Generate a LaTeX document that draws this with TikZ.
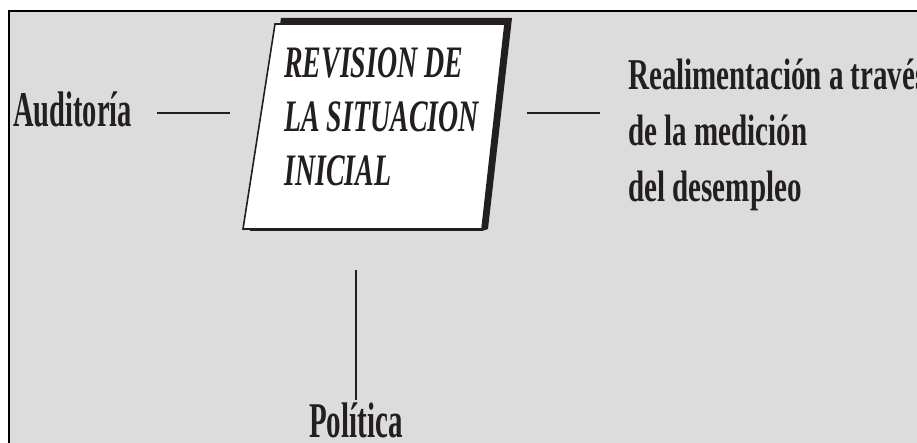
\documentclass[tikz,border=0pt]{standalone}
\usepackage{fontspec}
\setmainfont{Liberation Serif}
\usepackage{graphicx}
\definecolor{bg}{HTML}{DCDCDC}
\definecolor{ink}{HTML}{231F20}
\newcommand{\cnd}[2]{\scalebox{#1}[1]{#2}}
\begin{document}
\begin{tikzpicture}[x=1pt,y=-1pt,
  lbl/.style={inner sep=0pt, text=ink, font=\fontsize{50}{56}\selectfont\bfseries},
  rlbl/.style={inner sep=0pt, text=ink, font=\fontsize{44}{56}\selectfont\bfseries},
  ilbl/.style={inner sep=0pt, text=ink, font=\fontsize{45}{54}\selectfont\bfseries\itshape},
  conn/.style={draw=ink, line width=2.8pt}]
\useasboundingbox (0,0) rectangle (917,443);
\fill[white] (0,0) rectangle (917,443);
\draw[fill=bg, draw=black, line width=2.2pt] (9,11) rectangle (940,470);
% parallelogram with shadow
\coordinate (tl) at (275,24);
\coordinate (tr) at (505,24);
\coordinate (br) at (482,229);
\coordinate (bl) at (243,229);
\fill[ink] (281,18) -- (512,18) -- (488,229) -- (482,231) -- (250,231) -- cycle;
\draw[fill=white, draw=ink, line width=1.6pt] (tl) -- (tr) -- (br) -- (bl) -- cycle;
\node[ilbl, anchor=base west] (rev) at (284,78)
  {\cnd{0.62}{\begin{tabular}[t]{@{}l@{}}REVISION DE\\LA SITUACION\\INICIAL\end{tabular}}};
\node[lbl, anchor=base west] (aud) at (13,127) {\cnd{0.57}{Auditoría}};
\node[rlbl, anchor=base west] (real) at (628,90)
  {\cnd{0.66}{\begin{tabular}[t]{@{}l@{}}Realimentación a través\\de la medición\\del desempleo\end{tabular}}};
\node[lbl, anchor=base west] (pol) at (309,437) {\cnd{0.58}{Política}};
\coordinate (a1) at (157,113);
\coordinate (a2) at (230,113);
\coordinate (r1) at (527,113);
\coordinate (r2) at (600,113);
\coordinate (p1) at (356,270);
\coordinate (p2) at (356,400);
\draw[conn] (a1) -- (a2);
\draw[conn] (r1) -- (r2);
\draw[draw=ink, line width=1.4pt] (p1) -- (p2);
\end{tikzpicture}
\end{document}
